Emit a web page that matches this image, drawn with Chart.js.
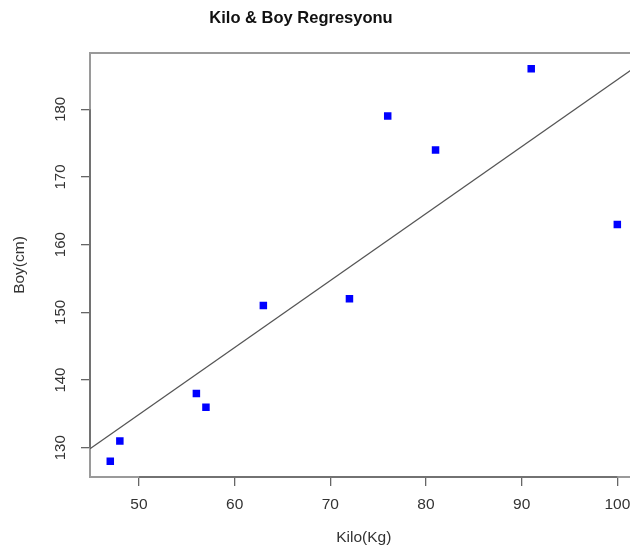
<!DOCTYPE html>
<html>
<head>
<meta charset="utf-8">
<script src="https://cdn.jsdelivr.net/npm/chart.js@4/dist/chart.umd.min.js"></script>
<style>
  html, body { margin: 0; padding: 0; background: #fff; overflow: hidden; }
  canvas { display: block; }
</style>
</head>
<body>
<canvas id="c" width="660" height="552"></canvas>
<script>
// Data
const kilo = [47, 48, 56, 57, 63, 72, 76, 81, 91, 100];
const boy  = [128, 131, 138, 136, 151, 152, 179, 174, 186, 163];
// Regression line (abline) end points at the axis limits
const regX = [44.88, 102.12];
const regY = [129.84, 186.46];
// Axis ranges and ticks
const xRange = [44.88, 102.12];
const yRange = [125.68, 188.32];
const xTicks = [50, 60, 70, 80, 90, 100];
const yTicks = [130, 140, 150, 160, 170, 180];
const titleText = 'Kilo & Boy Regresyonu';
const xTitle = 'Kilo(Kg)';
const yTitle = 'Boy(cm)';

const FONT = "'Liberation Sans', Arial, Helvetica, sans-serif";

const decor = {
  id: 'decor',
  beforeDatasetsDraw(chart) {
    const { ctx, chartArea: a, scales } = chart;
    ctx.save();
    // box
    ctx.strokeStyle = '#9a9a9a';
    ctx.lineWidth = 2;
    ctx.strokeRect(a.left, a.top, a.right - a.left, a.bottom - a.top);
    // axis lines from first to last tick
    ctx.strokeStyle = '#666';
    ctx.lineWidth = 1.5;
    ctx.beginPath();
    ctx.moveTo(scales.x.getPixelForValue(xTicks[0]), a.bottom);
    ctx.lineTo(scales.x.getPixelForValue(xTicks[xTicks.length - 1]), a.bottom);
    ctx.moveTo(a.left, scales.y.getPixelForValue(yTicks[0]));
    ctx.lineTo(a.left, scales.y.getPixelForValue(yTicks[yTicks.length - 1]));
    ctx.stroke();
    ctx.restore();
  },
  afterDraw(chart) {
    const { ctx, chartArea: a, scales } = chart;
    ctx.save();
    ctx.fillStyle = '#111';
    ctx.textAlign = 'center';
    ctx.textBaseline = 'middle';
    ctx.font = "bold 16.5px " + FONT;
    ctx.fillText(titleText, 301, 18);
    ctx.fillStyle = '#333';
    ctx.font = "15.5px " + FONT;
    ctx.fillText(xTitle, (a.left + a.right) / 2, 538);
    // y title
    ctx.save();
    ctx.translate(20, (a.top + a.bottom) / 2);
    ctx.rotate(-Math.PI / 2);
    ctx.fillText(yTitle, 0, 0);
    ctx.restore();
    // y tick labels (rotated, as in R)
    ctx.font = "15px " + FONT;
    yTicks.forEach(v => {
      ctx.save();
      ctx.translate(61, scales.y.getPixelForValue(v));
      ctx.rotate(-Math.PI / 2);
      ctx.fillText(String(v), 0, 0);
      ctx.restore();
    });
    ctx.restore();
  }
};

new Chart(document.getElementById('c'), {
  data: {
    datasets: [
      {
        type: 'scatter',
        data: kilo.map((x, i) => ({ x, y: boy[i] })),
        pointStyle: 'rect',
        pointRadius: 5.3,
        pointHoverRadius: 5.3,
        backgroundColor: '#0000ff',
        borderWidth: 0,
        order: 1
      },
      {
        type: 'line',
        data: regX.map((x, i) => ({ x, y: regY[i] })),
        borderColor: '#555',
        borderWidth: 1.3,
        pointRadius: 0,
        fill: false,
        order: 2
      }
    ]
  },
  options: {
    responsive: false,
    devicePixelRatio: 1,
    animation: false,
    events: [],
    layout: { padding: { top: 53, right: 22.4, left: 0, bottom: 0 } },
    plugins: { legend: { display: false }, title: { display: false }, tooltip: { enabled: false } },
    scales: {
      x: {
        type: 'linear',
        min: xRange[0], max: xRange[1],
        afterBuildTicks: s => { s.ticks = xTicks.map(v => ({ value: v })); },
        afterFit: s => { s.height = 75; },
        grid: { drawOnChartArea: false, drawTicks: true, tickLength: 9, color: '#666', lineWidth: 1.3 },
        border: { display: false },
        ticks: { padding: 9, color: '#333', font: { family: FONT, size: 15.5 }, maxRotation: 0, autoSkip: false }
      },
      y: {
        type: 'linear',
        min: yRange[0], max: yRange[1],
        afterBuildTicks: s => { s.ticks = yTicks.map(v => ({ value: v })); },
        afterFit: s => { s.width = 90; },
        grid: { drawOnChartArea: false, drawTicks: true, tickLength: 9, color: '#666', lineWidth: 1.3 },
        border: { display: false },
        ticks: { display: false }
      }
    }
  },
  plugins: [decor]
});
</script>
</body>
</html>
